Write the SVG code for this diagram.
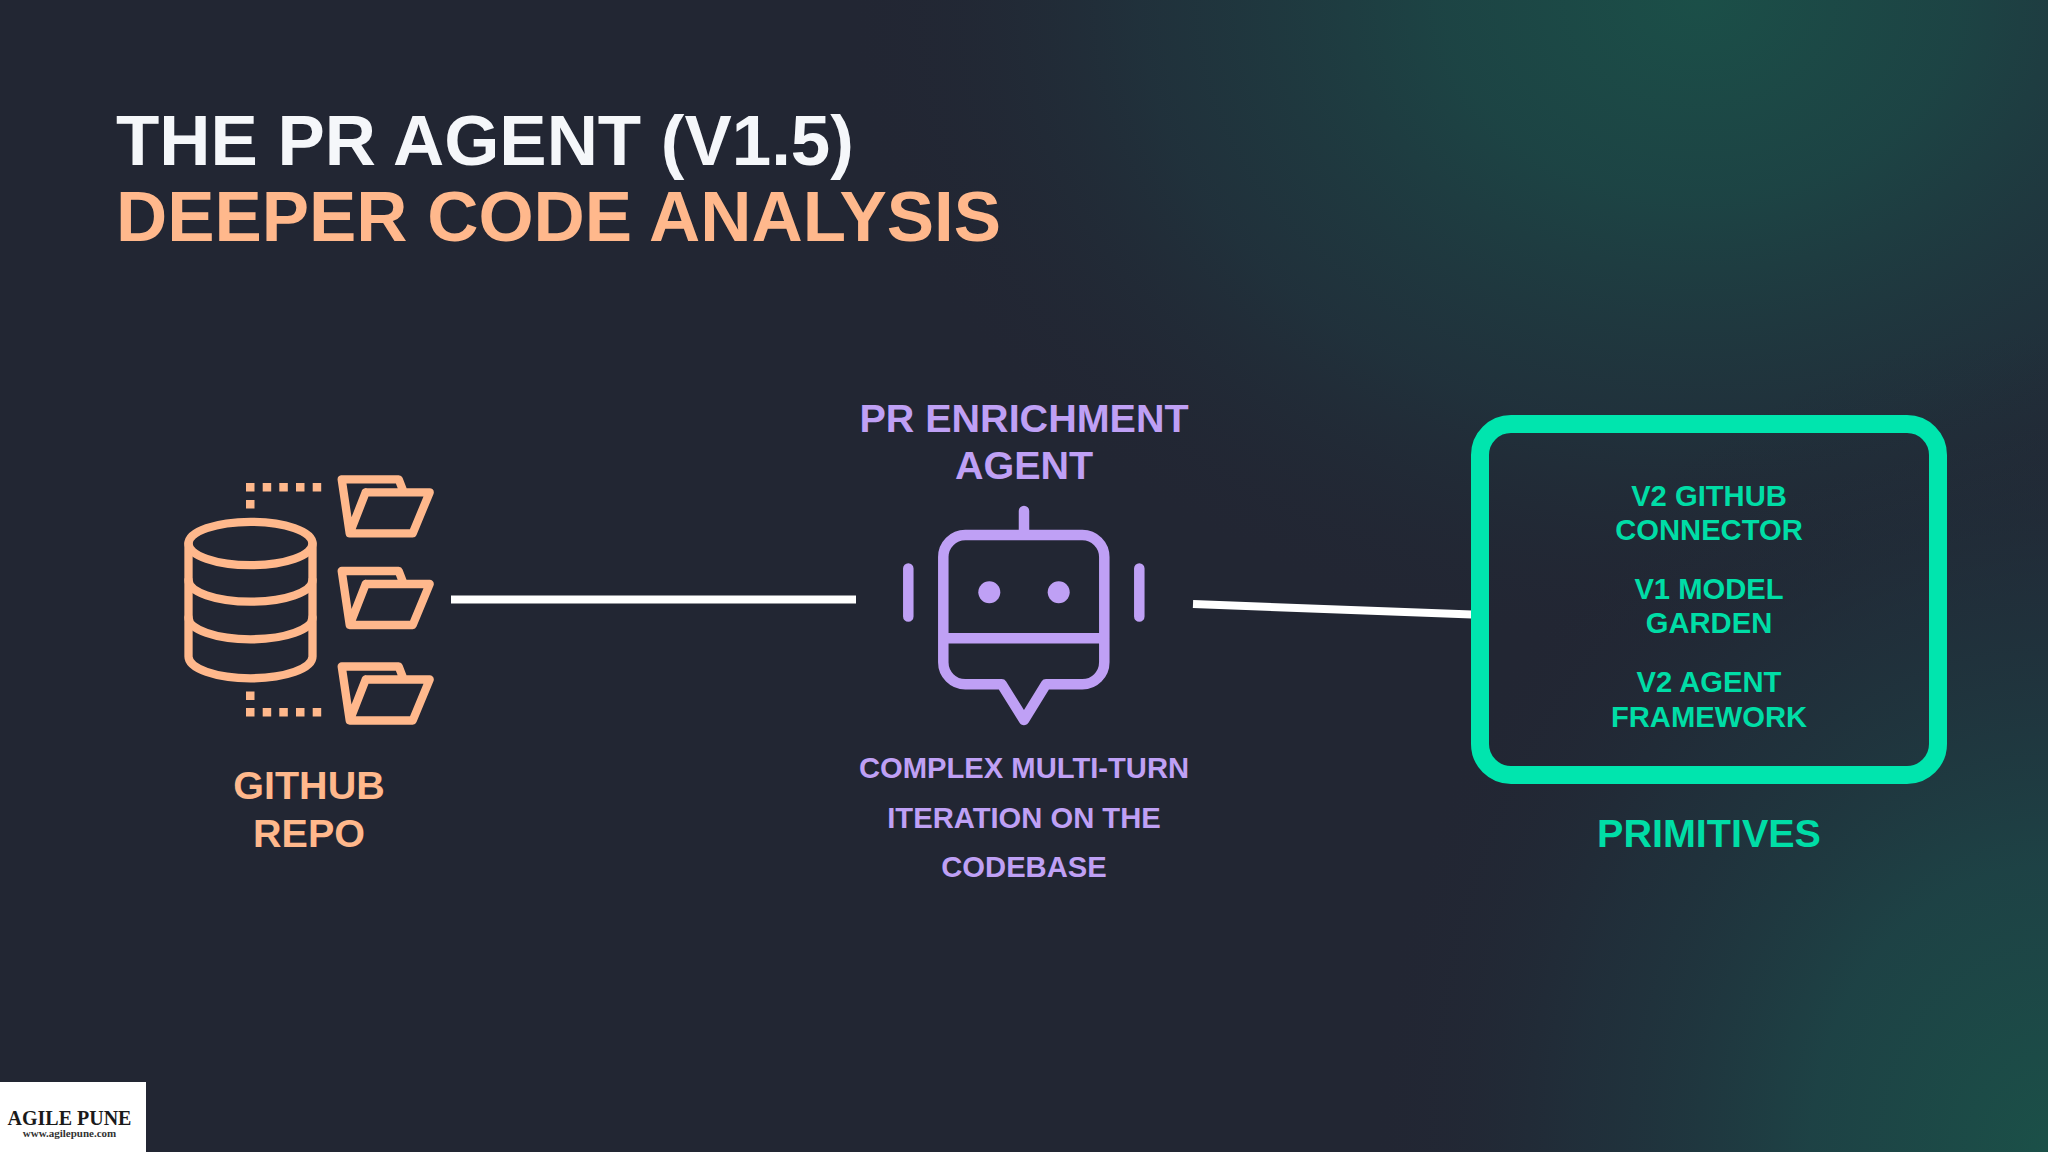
<svg xmlns="http://www.w3.org/2000/svg" width="2048" height="1152" viewBox="0 0 2048 1152">
<style>
text{font-family:"Liberation Sans",Arial,sans-serif;font-weight:700;text-anchor:middle}
.title{font-size:70.9px;text-anchor:start}
.o{fill:#FFB88C}.p{fill:#BFA0F5}.g{fill:#00DDA6}
.lab{font-size:39.5px}.sub{font-size:29.2px}.prim{font-size:29.2px}
.ol{fill:none;stroke:#FFB88C;stroke-width:8.3;stroke-linejoin:round;stroke-linecap:round}
.pl{fill:none;stroke:#BFA0F5;stroke-width:10.5;stroke-linejoin:round;stroke-linecap:round}
.conn{stroke:#FFFFFF;stroke-width:8;fill:none}
</style>
<defs>
<radialGradient id="gt" gradientUnits="userSpaceOnUse" cx="0" cy="0" r="1" gradientTransform="translate(1700 0) scale(860 660)">
<stop offset="0" stop-color="#1B4F48"/><stop offset="0.3" stop-color="#1C4746" stop-opacity="0.9"/><stop offset="0.65" stop-color="#1F3A42" stop-opacity="0.55"/><stop offset="1" stop-color="#222633" stop-opacity="0"/>
</radialGradient>
<radialGradient id="gb" gradientUnits="userSpaceOnUse" cx="0" cy="0" r="1" gradientTransform="translate(2048 1152) scale(680 820)">
<stop offset="0" stop-color="#1B5048"/><stop offset="0.35" stop-color="#1D4547" stop-opacity="0.9"/><stop offset="0.7" stop-color="#1F3640" stop-opacity="0.5"/><stop offset="1" stop-color="#222633" stop-opacity="0"/>
</radialGradient>
<g id="folder" class="ol"><path d="M0 0H57L62 13M24 13H88L71 54H8L0 0M8 54L24 13"/></g>
</defs>
<rect width="2048" height="1152" fill="#222633"/>
<rect width="2048" height="1152" fill="url(#gt)"/>
<rect width="2048" height="1152" fill="url(#gb)"/>
<g id="title">
<text class="title" x="116" y="165" fill="#F5F7FA">THE PR AGENT (V1.5)</text>
<text class="title o" x="116" y="241">DEEPER CODE ANALYSIS</text>
</g>
<g id="connectors">
<line class="conn" x1="451" y1="599.5" x2="856" y2="599.5"/>
<line class="conn" x1="1193" y1="604" x2="1472" y2="614.5"/>
</g>
<g id="github-repo">
<g class="ol">
<ellipse cx="250.5" cy="543.5" rx="62" ry="21.7"/>
<path d="M188.5 543.5V656.6C188.5 668.6 216 678.3 250.5 678.3S312.5 668.6 312.5 656.6V543.5"/>
<path d="M188.5 580C188.5 592 216 601.7 250.5 601.7S312.5 592 312.5 580"/>
<path d="M188.5 617.5C188.5 629.5 216 639.3 250.5 639.3S312.5 629.5 312.5 617.5"/>
</g>
<g class="o">
<rect x="246" y="483" width="8.5" height="8.5"/><rect x="262.7" y="483" width="8.5" height="8.5"/><rect x="279.3" y="483" width="8.5" height="8.5"/><rect x="296" y="483" width="8.5" height="8.5"/><rect x="312.7" y="483" width="8.5" height="8.5"/><rect x="246" y="500" width="8.5" height="8.5"/>
<rect x="246" y="691.5" width="8.5" height="8.5"/><rect x="246" y="708" width="8.5" height="8.5"/><rect x="262.7" y="708" width="8.5" height="8.5"/><rect x="279.3" y="708" width="8.5" height="8.5"/><rect x="296" y="708" width="8.5" height="8.5"/><rect x="312.7" y="708" width="8.5" height="8.5"/>
</g>
<use href="#folder" x="341.7" y="479.3"/>
<use href="#folder" x="341.7" y="571"/>
<use href="#folder" x="341.7" y="666.5"/>
<text class="lab o" x="309" y="798.5">GITHUB</text>
<text class="lab o" x="309" y="847">REPO</text>
</g>
<g id="pr-enrichment-agent">
<text class="lab p" x="1024" y="431.5">PR ENRICHMENT</text>
<text class="lab p" x="1024" y="479">AGENT</text>
<path class="pl" d="M1024 511V535M965.3 535H1082.3A22 22 0 0 1 1104.3 557V662.3A22 22 0 0 1 1082.3 684.3H1046L1024 720L1001.7 684.3H965.3A22 22 0 0 1 943.3 662.3V557A22 22 0 0 1 965.3 535ZM943.3 638.3H1104.3M908.3 568.5V616.5M1139.3 568.5V616.5"/>
<circle cx="989.3" cy="592.3" r="11" fill="#BFA0F5"/>
<circle cx="1058.7" cy="592.3" r="11" fill="#BFA0F5"/>
<text class="sub p" x="1024" y="778">COMPLEX MULTI-TURN</text>
<text class="sub p" x="1024" y="828">ITERATION ON THE</text>
<text class="sub p" x="1024" y="877">CODEBASE</text>
</g>
<g id="primitives">
<rect x="1480" y="424" width="458" height="351" rx="31" fill="none" stroke="#00E5AE" stroke-width="18"/>
<text class="prim g" x="1709" y="506">V2 GITHUB</text>
<text class="prim g" x="1709" y="540">CONNECTOR</text>
<text class="prim g" x="1709" y="599">V1 MODEL</text>
<text class="prim g" x="1709" y="633">GARDEN</text>
<text class="prim g" x="1709" y="692">V2 AGENT</text>
<text class="prim g" x="1709" y="727">FRAMEWORK</text>
<text class="lab g" x="1709" y="847">PRIMITIVES</text>
</g>
<g id="logo">
<rect x="0" y="1082" width="146" height="70" fill="#FFFFFF"/>
<text x="69.5" y="1125" fill="#1a1a1a" style="font-family:'Liberation Serif',serif;font-size:20px">AGILE PUNE</text>
<text x="69.5" y="1137" fill="#333333" style="font-family:'Liberation Serif',serif;font-size:11px">www.agilepune.com</text>
</g>
</svg>
